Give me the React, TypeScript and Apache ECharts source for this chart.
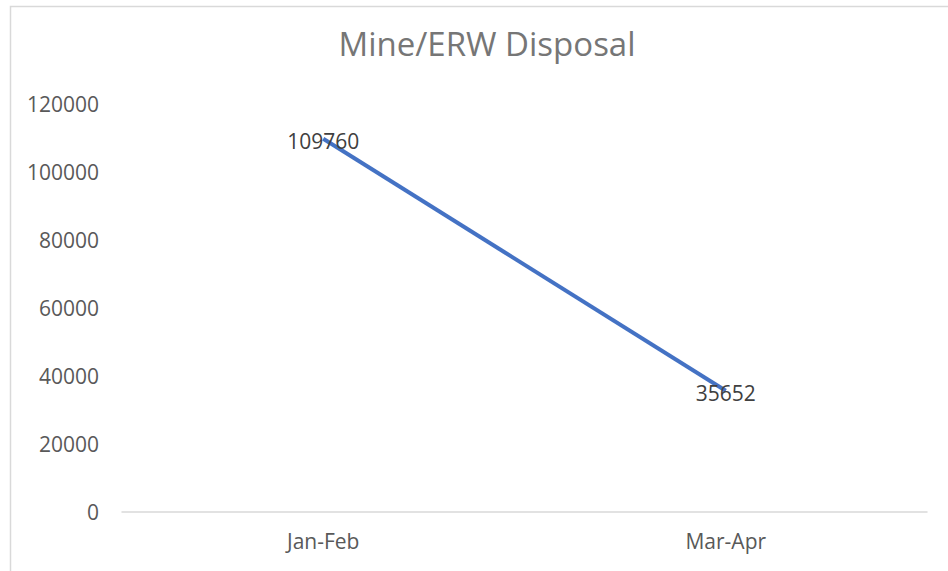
import React, { useEffect, useRef } from "react";
import * as echarts from "echarts";

const title = "Mine/ERW Disposal";
const categories = ["Jan-Feb", "Mar-Apr"];
const values = [109760, 35652];
const yMax = 120000;
const yInterval = 20000;

const FONT = "'Open Sans', 'Noto Sans', sans-serif";

export default function App() {
  const ref = useRef<HTMLDivElement>(null);
  useEffect(() => {
    document.body.style.margin = "0";
    const chart = echarts.init(ref.current!, null, { renderer: "svg" });
    chart.setOption({
      animation: false,
      backgroundColor: "#ffffff",
      title: {
        text: title,
        left: 482,
        textAlign: "center",
        top: 22,
        textStyle: { fontFamily: FONT, fontSize: 33, fontWeight: "normal", color: "#767676" },
      },
      graphic: [
        {
          type: "rect",
          shape: { x: 10.5, y: 6.5, width: 960, height: 620 },
          style: { fill: "none", stroke: "#d9d9d9", lineWidth: 1.5 },
          silent: true,
        },
      ],
      grid: { left: 122, right: 21, top: 104, bottom: 59 },
      xAxis: {
        type: "category",
        data: categories,
        boundaryGap: true,
        axisLine: { show: true, lineStyle: { color: "#d9d9d9", width: 1.5 } },
        axisTick: { show: false },
        axisLabel: { fontFamily: FONT, fontSize: 21, color: "#595959", margin: 18 },
        splitLine: { show: false },
      },
      yAxis: {
        type: "value",
        min: 0,
        max: yMax,
        interval: yInterval,
        axisLine: { show: false },
        axisTick: { show: false },
        splitLine: { show: false },
        axisLabel: {
          fontFamily: FONT,
          fontSize: 21,
          color: "#595959",
          margin: 23,
          formatter: (v: number) => String(v),
        },
      },
      series: [
        {
          type: "line",
          data: values,
          showSymbol: true,
          symbol: "circle",
          symbolSize: 0,
          lineStyle: { color: "#4472C4", width: 4 },
          itemStyle: { color: "#4472C4" },
          label: {
            show: true,
            position: "inside",
            offset: [0, 2],
            fontFamily: FONT,
            fontSize: 21,
            color: "#404040",
          },
        },
      ],
    });
    return () => chart.dispose();
  }, []);
  return <div ref={ref} style={{ width: 948, height: 571 }} />;
}
